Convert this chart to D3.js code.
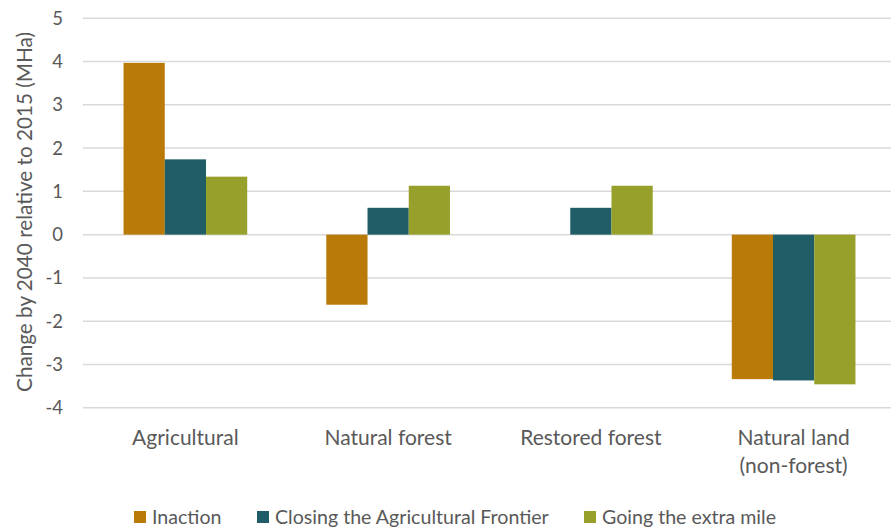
<!DOCTYPE html>
<html><head><meta charset="utf-8">
<script src="https://cdn.jsdelivr.net/npm/d3@7"></script>
<style>body{margin:0;background:#fff}svg{display:block}text{font-family:Lato,"Open Sans",sans-serif;fill:#595959}</style>
</head><body><svg id="c" width="891" height="529"></svg>
<script>
const categories = ["Agricultural", "Natural forest", "Restored forest", "Natural land\n(non-forest)"];
const seriesNames = ["Inaction", "Closing the Agricultural Frontier", "Going the extra mile"];
const colors = ["#B97A07", "#215D67", "#97A02B"];
const inaction = [3.97, -1.62, 0, -3.34];
const closing = [1.74, 0.62, 0.62, -3.37];
const going = [1.34, 1.13, 1.13, -3.46];
const yTicks = [5, 4, 3, 2, 1, 0, -1, -2, -3, -4];
const yTitle = "Change by 2040 relative to 2015 (MHa)";

const series = [inaction, closing, going];
const svg = d3.select("#c");
const y = d3.scaleLinear().domain([-4, 5]).range([407.7, 18.3]);
const x0 = d3.scaleBand().domain(categories).range([84, 895]).padding(0);
const step = x0.bandwidth();
const x1 = d3.scaleBand().domain(seriesNames).range([step * 0.195, step * 0.805]).padding(0);

svg.append("g").selectAll("line").data(yTicks).join("line")
  .attr("x1", 83).attr("x2", 891)
  .attr("y1", d => y(d)).attr("y2", d => y(d))
  .attr("stroke", "#d9d9d9").attr("stroke-width", 1.5);

svg.append("g").selectAll("text").data(yTicks).join("text")
  .attr("x", 63).attr("y", d => y(d)).attr("dy", "0.35em")
  .attr("text-anchor", "end").attr("font-size", 18.5).text(d => d);

const g = svg.append("g");
categories.forEach((c, i) => {
  series.forEach((s, j) => {
    const v = s[i];
    if (v === 0) return;
    g.append("rect")
      .attr("x", x0(c) + x1(seriesNames[j]))
      .attr("width", x1.bandwidth())
      .attr("y", y(Math.max(0, v)))
      .attr("height", Math.abs(y(v) - y(0)))
      .attr("fill", colors[j]);
  });
});

categories.forEach(c => {
  const lines = c.split("\n");
  lines.forEach((l, k) => {
    svg.append("text").attr("x", x0(c) + step / 2).attr("y", 438 + k * 28)
      .attr("dy", "0.35em").attr("text-anchor", "middle").attr("font-size", 21).text(l);
  });
});

svg.append("text").attr("transform", "translate(25,212) rotate(-90)")
  .attr("text-anchor", "middle").attr("dy", "0.35em").attr("font-size", 20.7).text(yTitle);

const legX = [134, 257, 584];
seriesNames.forEach((n, j) => {
  svg.append("rect").attr("x", legX[j]).attr("y", 511).attr("width", 12).attr("height", 12).attr("fill", colors[j]);
  svg.append("text").attr("x", legX[j] + 18).attr("y", 517).attr("dy", "0.35em").attr("font-size", 19.6).text(n);
});
</script></body></html>
